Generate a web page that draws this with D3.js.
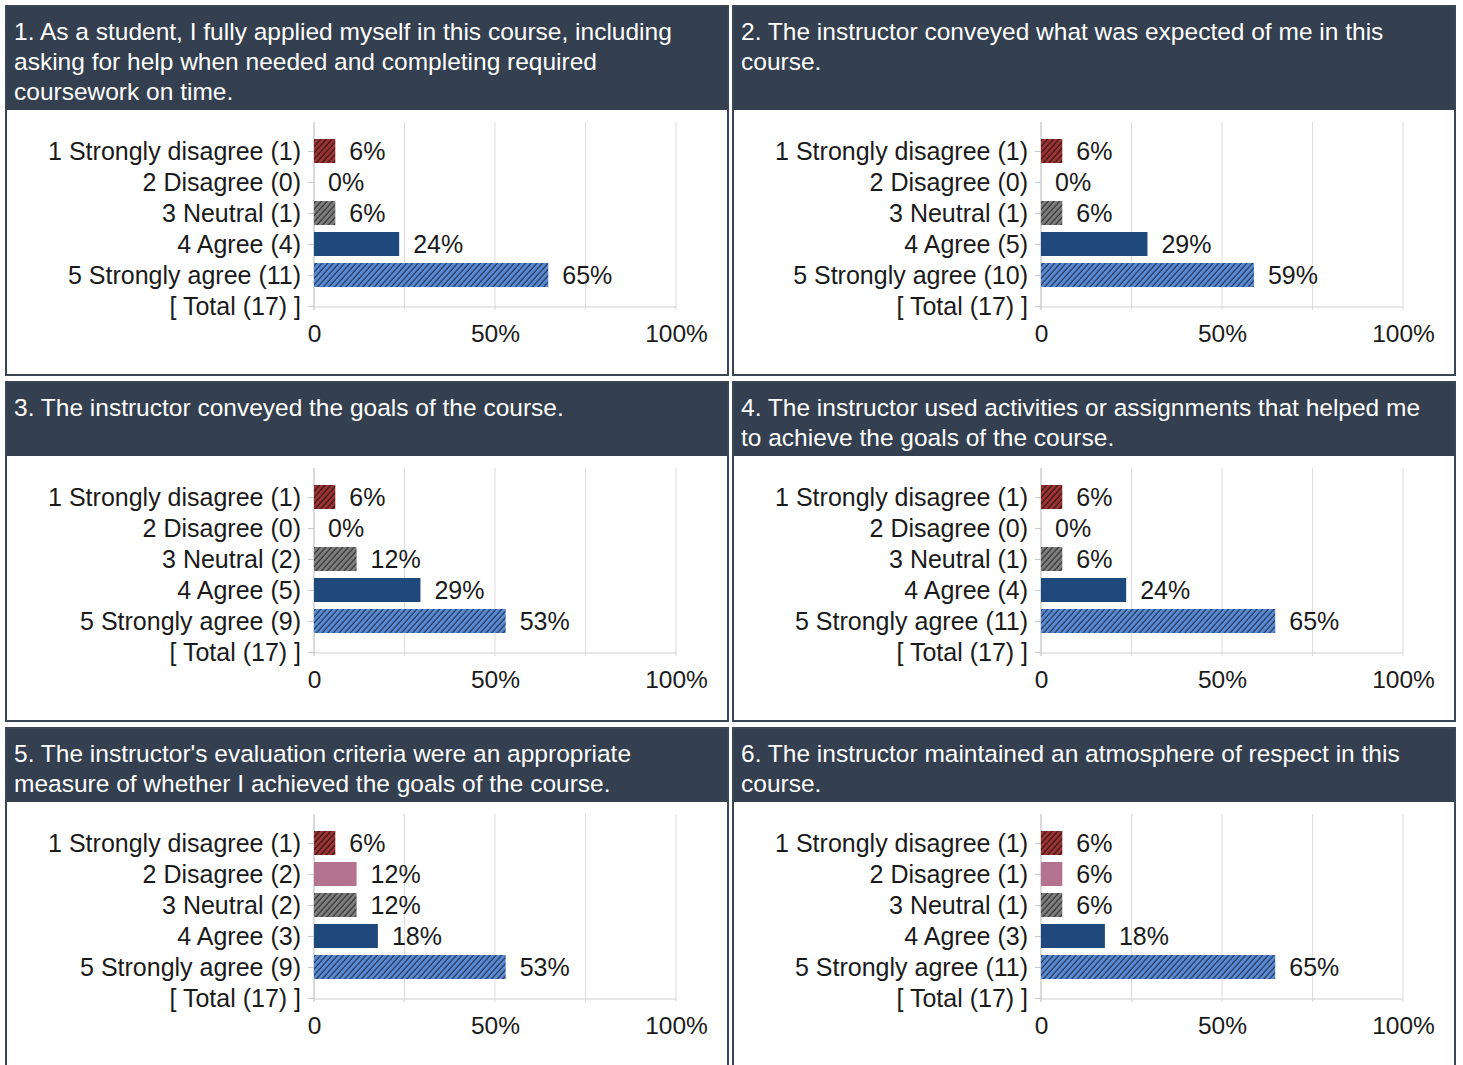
<!DOCTYPE html>
<html><head><meta charset="utf-8">
<script src="https://cdn.jsdelivr.net/npm/d3@7"></script>
<style>
html,body{margin:0;padding:0;background:#fff;}
svg{display:block;font-family:"Liberation Sans",Arial,sans-serif;}
</style></head>
<body><svg id="c" width="1463" height="1065"></svg>
<script>
const categories = ["1 Strongly disagree","2 Disagree","3 Neutral","4 Agree","5 Strongly agree"];
const titles = [
  ["1. As a student, I fully applied myself in this course, including","asking for help when needed and completing required","coursework on time."],
  ["2. The instructor conveyed what was expected of me in this","course."],
  ["3. The instructor conveyed the goals of the course."],
  ["4. The instructor used activities or assignments that helped me","to achieve the goals of the course."],
  ["5. The instructor's evaluation criteria were an appropriate","measure of whether I achieved the goals of the course."],
  ["6. The instructor maintained an atmosphere of respect in this","course."]
];
const q1 = [1,0,1,4,11];
const q2 = [1,0,1,5,10];
const q3 = [1,0,2,5,9];
const q4 = [1,0,1,4,11];
const q5 = [1,2,2,3,9];
const q6 = [1,1,1,3,11];
const totals = [17,17,17,17,17,17];
const tickValues = [0,0.5,1];
const tickLabels = ["0","50%","100%"];

const counts = [q1,q2,q3,q4,q5,q6];
const svg = d3.select("#c");
const defs = svg.append("defs");
const styles = [
  {fill:"#9b3535", stripe:"#2e0c0c", hatch:true},
  {fill:"#b3728e", hatch:false},
  {fill:"#7f7f7f", stripe:"#2a2a2a", hatch:true},
  {fill:"#1f487c", hatch:false},
  {fill:"#5b8bd3", stripe:"#1b2b4a", hatch:true}
];
styles.forEach((s,i)=>{
  if(!s.hatch) return;
  const p = defs.append("pattern").attr("id","h"+i).attr("patternUnits","userSpaceOnUse")
    .attr("width",4.2).attr("height",4.2).attr("patternTransform","rotate(42)");
  p.append("rect").attr("width",4.2).attr("height",4.2).attr("fill",s.fill);
  p.append("line").attr("x1",1).attr("y1",0).attr("x2",1).attr("y2",4.2)
    .attr("stroke",s.stripe).attr("stroke-width",1.1);
});
const fillOf = i => styles[i].hatch ? `url(#h${i})` : styles[i].fill;

const colX = [5,732];
const rowY = [5,381,727];
const rowH = [371,341,341];
const headH = [105,75,75];
const panelW = 724;
const border = "#3a4656";
const headFill = "#343f4f";
const FONT = "'Liberation Sans',Arial,sans-serif";

counts.forEach((vals,qi)=>{
  const c = qi%2, r = Math.floor(qi/2);
  const g = svg.append("g").attr("transform",`translate(${colX[c]},${rowY[r]})`);
  g.append("rect").attr("x",1).attr("y",1).attr("width",panelW-2).attr("height",rowH[r]-2)
    .attr("fill","#fff").attr("stroke",border).attr("stroke-width",2);
  g.append("rect").attr("x",2).attr("y",2).attr("width",panelW-4).attr("height",headH[r]-2).attr("fill",headFill);
  const t = g.append("text").attr("fill","#fff").attr("font-size",24.5);
  titles[qi].forEach((ln,li)=>{
    t.append("tspan").attr("x",9).attr("y",34.5+li*30).text(ln);
  });
  const hb = headH[r];
  const total = totals[qi];
  const labels = categories.map((cat,i)=>`${cat} (${vals[i]})`).concat([`[ Total (${total}) ]`]);
  const x = d3.scaleLinear().domain([0,1]).range([309,671]);
  const y = d3.scalePoint().domain(labels).range([hb+41,hb+196]);
  const top = hb+12, base = hb+197;
  g.append("g").selectAll("line").data(d3.range(0,1.01,0.25)).join("line")
    .attr("x1",d=>x(d)).attr("x2",d=>x(d)).attr("y1",top).attr("y2",base+3)
    .attr("stroke","#dcdcdc").attr("stroke-width",1);
  g.append("line").attr("x1",x(0)).attr("x2",x(1)).attr("y1",base).attr("y2",base)
    .attr("stroke","#cfcfcf");
  const ya = g.append("g").attr("transform",`translate(${x(0)},0)`)
    .call(d3.axisLeft(y).tickSize(6).tickPadding(7));
  ya.select(".domain").attr("stroke","#c8c8c8").attr("d",`M0,${top}V${base+3}`);
  ya.selectAll(".tick line").attr("stroke","#c8c8c8");
  ya.selectAll(".tick text").attr("font-size",25).attr("fill","#1a1a1a").attr("font-family",FONT);
  const xa = g.append("g").attr("transform",`translate(0,${base})`)
    .call(d3.axisBottom(x).tickValues(tickValues).tickFormat((d,i)=>tickLabels[i]).tickSize(0).tickPadding(18));
  xa.select(".domain").remove();
  xa.selectAll(".tick text").attr("font-size",24.5).attr("fill","#1a1a1a").attr("font-family",FONT);
  const bh = 24;
  const data = vals.map((v,i)=>({i, label:labels[i], p:v/total}));
  g.append("g").selectAll("rect").data(data).join("rect")
    .attr("x",x(0)).attr("y",d=>y(d.label)-bh/2).attr("height",bh)
    .attr("width",d=>x(d.p)-x(0)).attr("fill",d=>fillOf(d.i));
  g.append("g").selectAll("text").data(data).join("text")
    .attr("x",d=>x(d.p)+14).attr("y",d=>y(d.label)).attr("dy","0.35em")
    .attr("font-size",25).attr("fill","#1a1a1a")
    .text(d=>Math.round(d.p*100)+"%");
});
</script></body></html>
